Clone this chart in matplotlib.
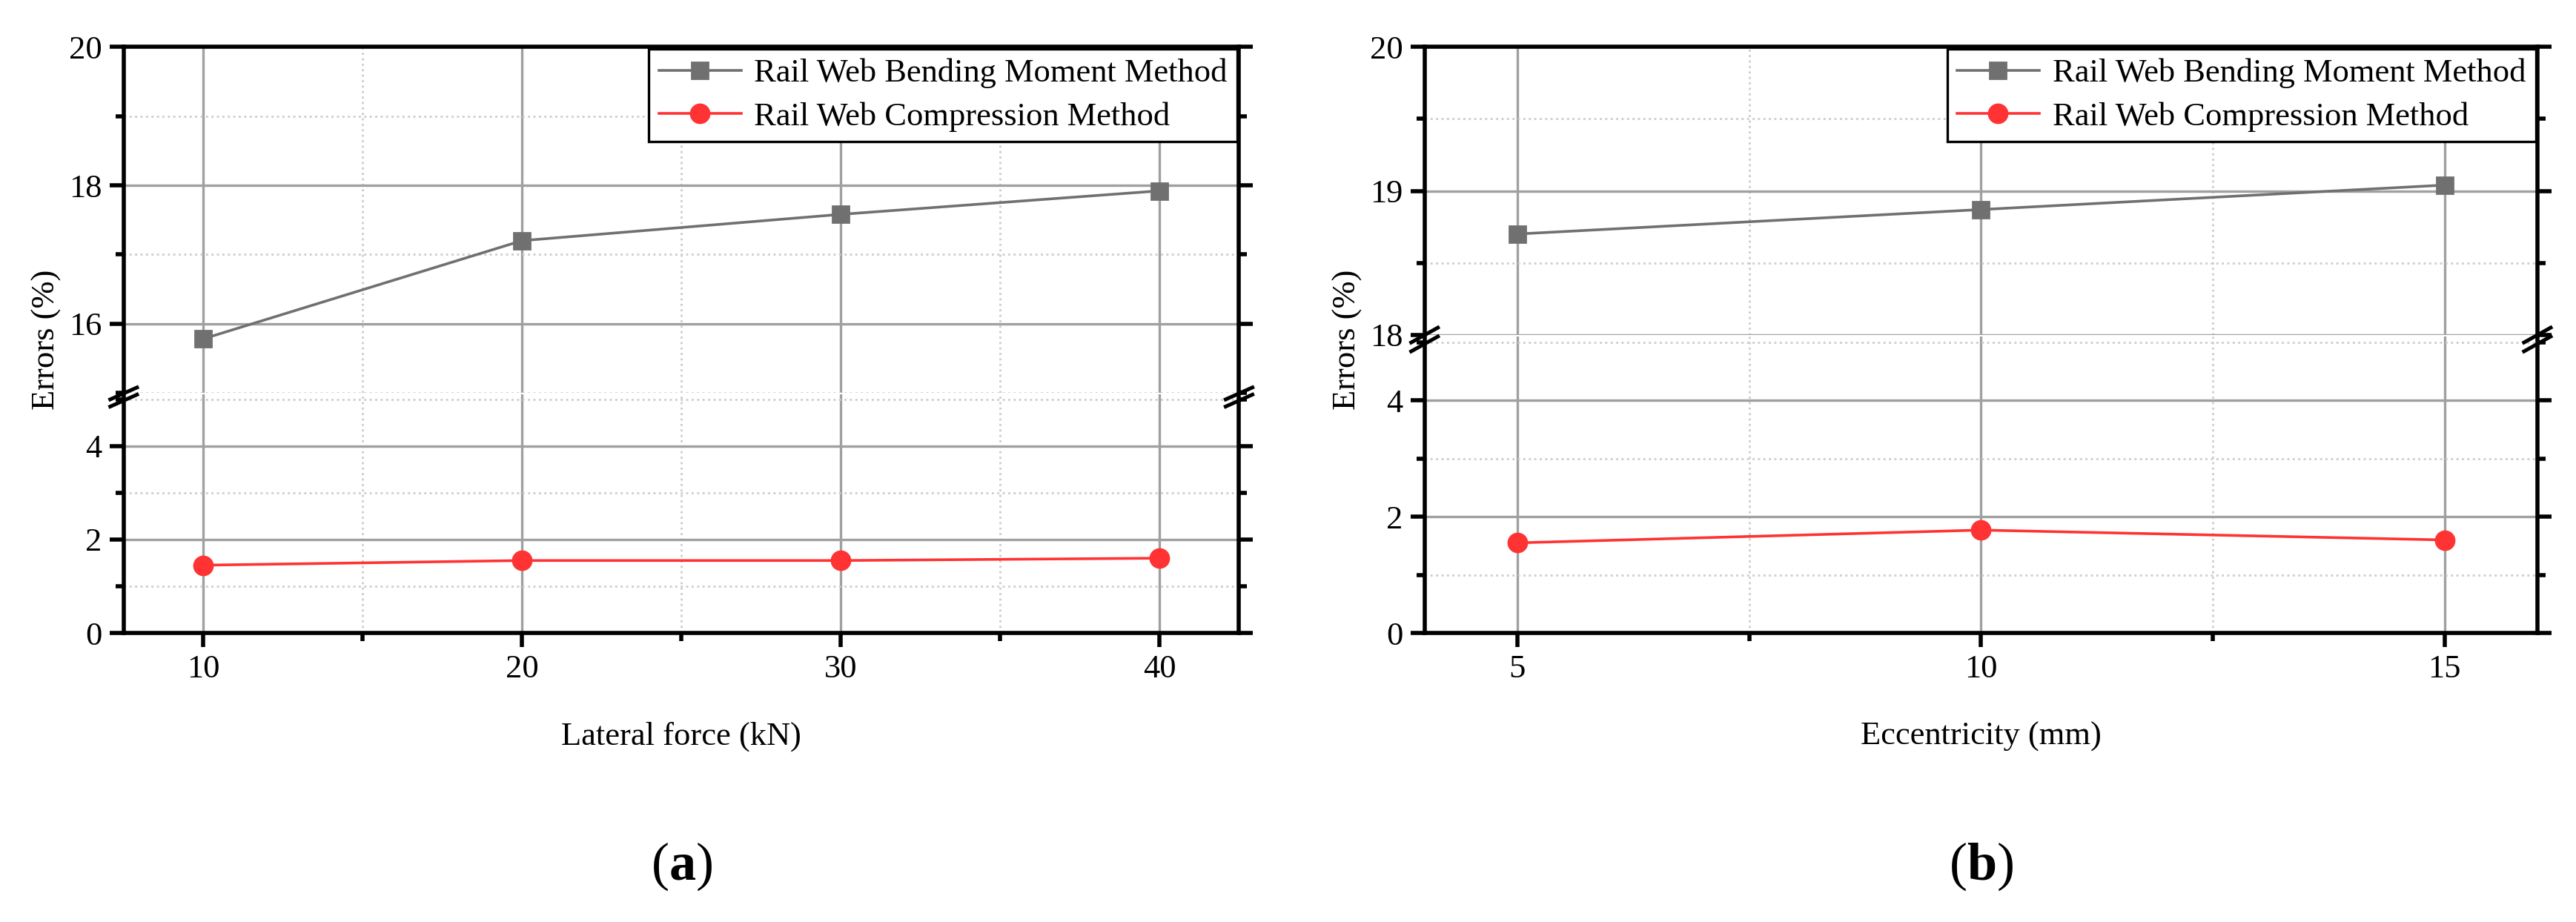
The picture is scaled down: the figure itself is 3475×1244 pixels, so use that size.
import numpy as np
import matplotlib.pyplot as plt
from matplotlib.ticker import MultipleLocator

plt.rcParams['font.family'] = ['Liberation Serif', 'DejaVu Serif']
plt.rcParams['mathtext.fontset'] = 'custom'
plt.rcParams['mathtext.rm'] = 'Liberation Serif'
plt.rcParams['mathtext.bf'] = 'Liberation Serif:bold'

# данные панели (a)
force = [10, 20, 30, 40]
force_bending = [15.78, 17.2, 17.58, 17.92]
force_compression = [1.45, 1.55, 1.55, 1.6]

# данные панели (b)
ecc = [5, 10, 15]
ecc_bending = [18.7, 18.87, 19.04]
ecc_compression = [1.55, 1.77, 1.6]

label_bend = 'Rail Web Bending Moment Method'
label_comp = 'Rail Web Compression Method'

fig = plt.figure(figsize=(17.375, 6.22), dpi=200)


def style_axis(ax, xlim, xmajor, xminor):
    ax.set_xlim(*xlim)
    ax.xaxis.set_major_locator(MultipleLocator(xmajor))
    ax.xaxis.set_minor_locator(MultipleLocator(xminor))
    ax.grid(True, which='major', color='#a0a0a0', linewidth=1.2)
    ax.grid(True, which='minor', color='#cccccc', linestyle=':', linewidth=1.0)
    ax.tick_params(which='both', direction='out', right=True, labelsize=16, width=2)
    ax.tick_params(which='major', length=7)
    ax.tick_params(which='minor', length=4)
    for s in ax.spines.values():
        s.set_linewidth(2)
    ax.set_axisbelow(True)


def break_marks(ax_lo):
    d = 0.012
    kw = dict(transform=ax_lo.transAxes, color='k', clip_on=False, linewidth=1.8)
    for x in (0, 1):
        ax_lo.plot([x - d, x + d], [0.98, 1.03], **kw)
        ax_lo.plot([x - d, x + d], [0.95, 1.0], **kw)


def panel(x0, width, y_up, y_lo, x, bend, comp, up_lim, up_major, up_minor,
          xlim, xmajor, xminor, xlabel, tag):
    ax_up = fig.add_axes([x0, y_up[0], width, y_up[1] - y_up[0]])
    ax_lo = fig.add_axes([x0, y_lo[0], width, y_lo[1] - y_lo[0]], sharex=ax_up)
    for ax in (ax_up, ax_lo):
        style_axis(ax, xlim, xmajor, xminor)
        ax.plot(x, bend, color='#707070', marker='s', markersize=8, linewidth=1.3, label=label_bend)
        ax.plot(x, comp, color='#ff3333', marker='o', markersize=9, linewidth=1.3, label=label_comp)
    ax_up.set_ylim(*up_lim)
    ax_up.yaxis.set_major_locator(MultipleLocator(up_major))
    ax_up.yaxis.set_minor_locator(MultipleLocator(up_minor))
    ax_lo.set_ylim(0, 5.1)
    ax_lo.yaxis.set_major_locator(MultipleLocator(2))
    ax_lo.yaxis.set_minor_locator(MultipleLocator(1))
    ax_up.spines['bottom'].set_visible(False)
    ax_lo.spines['top'].set_visible(False)
    ax_up.tick_params(axis='x', which='both', bottom=False, labelbottom=False)
    ax_lo.tick_params(axis='x', which='both', top=False)
    break_marks(ax_lo)
    leg = ax_up.legend(loc='upper right', fontsize=16, fancybox=False, framealpha=1,
                       edgecolor='black', borderaxespad=0.05, handlelength=2.5,
                       handletextpad=0.4, borderpad=0.3, labelspacing=0.4)
    leg.get_frame().set_linewidth(1.2)
    ax_lo.set_xlabel(xlabel, fontsize=16, labelpad=18)
    fig.text(x0 - 0.03, (y_lo[0] + y_up[1]) / 2, 'Errors (%)', rotation=90,
             ha='center', va='center', fontsize=16)
    fig.text(x0 + width / 2, 0.06, tag, ha='center', va='center', fontsize=26)
    return ax_up, ax_lo


panel(0.048, 0.433, (0.574, 0.949), (0.3135, 0.572), force, force_bending, force_compression,
      (15, 20), 2, 1, (7.5, 42.5), 10, 5, 'Lateral force (kN)', r'($\mathbf{a}$)')
panel(0.553, 0.432, (0.637, 0.949), (0.3135, 0.635), ecc, ecc_bending, ecc_compression,
      (18, 20), 1, 0.5, (4, 16), 5, 2.5, 'Eccentricity (mm)', r'($\mathbf{b}$)')

fig.savefig('out.png', dpi=200)
